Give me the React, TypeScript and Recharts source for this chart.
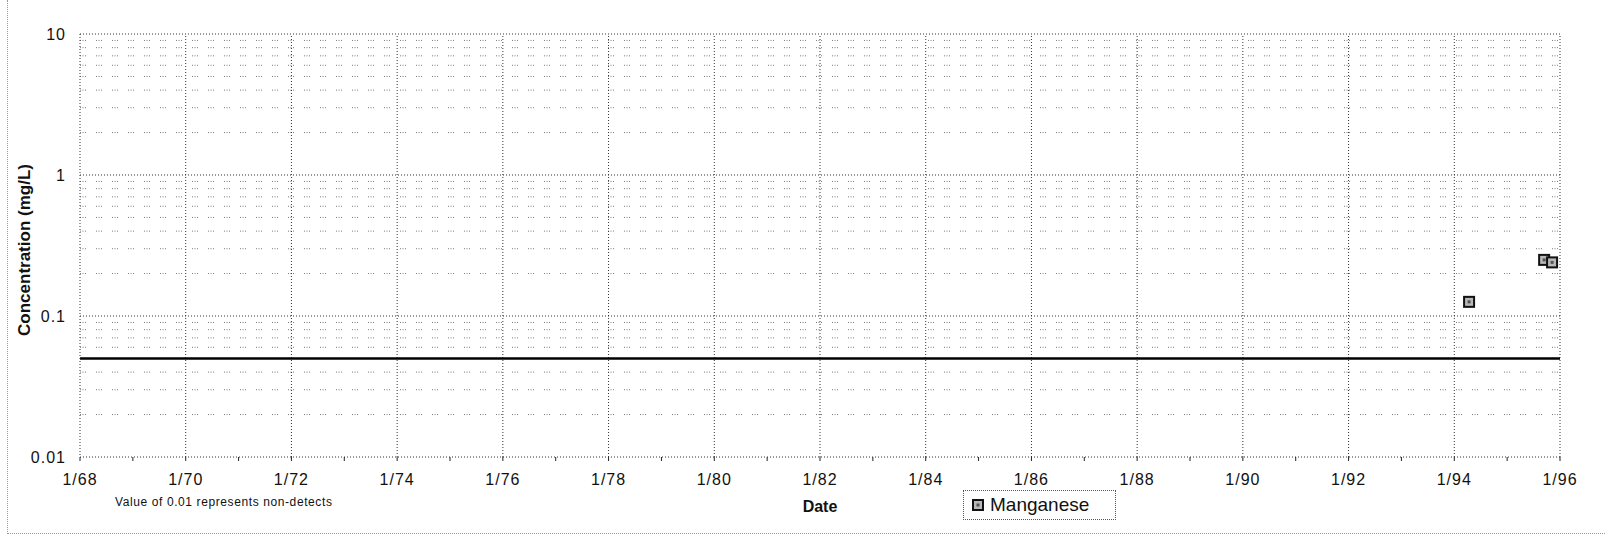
import { ScatterChart, Scatter, XAxis, YAxis, ReferenceLine, Label } from "recharts";

// sample dates as decimal years, concentration in mg/L
const sampleDates = [1994.28, 1995.7, 1995.85];
const manganese = [0.126, 0.25, 0.24];

const xTicks = [
  1968, 1969, 1970, 1971, 1972, 1973, 1974, 1975, 1976, 1977, 1978, 1979, 1980, 1981, 1982,
  1983, 1984, 1985, 1986, 1987, 1988, 1989, 1990, 1991, 1992, 1993, 1994, 1995, 1996,
];
const xLabelYears = [
  1968, 1970, 1972, 1974, 1976, 1978, 1980, 1982, 1984, 1986, 1988, 1990, 1992, 1994, 1996,
];
const xGridYears = [1970, 1972, 1974, 1976, 1978, 1980, 1982, 1984, 1986, 1988, 1990, 1992, 1994, 1996];
const yTicks = [0.01, 0.1, 1, 10];
const yMajorGrid = [0.1, 1, 10];
const yMinorGrid = [
  0.02, 0.03, 0.04, 0.05, 0.06, 0.07, 0.08, 0.09,
  0.2, 0.3, 0.4, 0.5, 0.6, 0.7, 0.8, 0.9,
  2, 3, 4, 5, 6, 7, 8, 9,
];
const standardLevel = 0.05;

const data = sampleDates.map((d, i) => ({ date: d, value: manganese[i] }));

const FONT = "'Liberation Sans', Arial, Helvetica, sans-serif";
const MAJOR = { stroke: "#333", strokeDasharray: "1 2" };
const MINOR = { stroke: "#7a7a7a", strokeDasharray: "1 1.5 1 1.5 1 10" };

function Square(props: any) {
  const { cx, cy } = props;
  if (cx == null || cy == null) return <g />;
  return (
    <g>
      <rect x={cx - 5} y={cy - 5} width={10} height={10} fill="#b8b8b8" stroke="#111" strokeWidth={2} />
      <rect x={cx - 1.5} y={cy - 1.5} width={3} height={3} fill="#555" />
    </g>
  );
}

function XTick(props: any) {
  const { x, y, payload } = props;
  if (!xLabelYears.includes(payload.value)) return <g />;
  return (
    <text x={x} y={y} dy="0.71em" textAnchor="middle" fontFamily={FONT} fontSize={16} letterSpacing={1} fill="#111">
      {"1/" + String(payload.value).slice(2)}
    </text>
  );
}

function YTick(props: any) {
  const { x, y, payload } = props;
  return (
    <text x={x} y={y} dy="0.355em" textAnchor="end" fontFamily={FONT} fontSize={16} letterSpacing={1} fill="#111">
      {String(payload.value)}
    </text>
  );
}

export default function App() {
  return (
    <div style={{ position: "absolute", left: 0, top: 0, width: 1606, height: 539, background: "#fff" }}>
      <div
        style={{
          position: "absolute",
          left: 7,
          top: 0,
          width: 1599,
          height: 533,
          borderLeft: "1px dotted #999",
          borderBottom: "1px dotted #999",
        }}
      />
      <ScatterChart width={1606} height={539} margin={{ top: 34, right: 46, bottom: 22, left: 0 }}>
        <XAxis
          type="number"
          dataKey="date"
          domain={[1968, 1996]}
          ticks={xTicks}
          interval={0}
          allowDataOverflow
          height={60}
          tick={<XTick />}
          tickSize={4}
          tickMargin={13}
          axisLine={MAJOR}
          tickLine={{ stroke: "#222" }}
        >
          <Label
            value="Date"
            position="insideBottom"
            offset={5}
            style={{ fontFamily: FONT, fontSize: 16, fontWeight: 700, fill: "#111" }}
          />
        </XAxis>
        <YAxis
          type="number"
          dataKey="value"
          scale="log"
          domain={[0.01, 10]}
          ticks={yTicks}
          interval={0}
          allowDataOverflow
          width={80}
          tick={<YTick />}
          tickSize={0}
          tickMargin={14}
          tickLine={false}
          axisLine={MAJOR}
        />
        {yMinorGrid.map((v) => (
          <ReferenceLine key={"m" + v} y={v} {...MINOR} />
        ))}
        {yMajorGrid.map((v) => (
          <ReferenceLine key={"M" + v} y={v} {...MAJOR} />
        ))}
        {xGridYears.map((v) => (
          <ReferenceLine key={"x" + v} x={v} {...MAJOR} />
        ))}
        <ReferenceLine y={standardLevel} stroke="#000" strokeWidth={2.5} />
        <Scatter name="Manganese" data={data} shape={<Square />} isAnimationActive={false} />
      </ScatterChart>
      <div
        style={{
          position: "absolute",
          left: 963,
          top: 490,
          boxSizing: "border-box",
          width: 153,
          height: 30,
          border: "1px dotted #555",
          display: "flex",
          alignItems: "center",
          paddingLeft: 8,
          fontFamily: FONT,
          fontSize: 19,
          color: "#111",
        }}
      >
        <svg width={12} height={12} style={{ marginRight: 6 }}>
          <Square cx={6} cy={6} />
        </svg>
        Manganese
      </div>
      <div
        style={{
          position: "absolute",
          left: 115,
          top: 495,
          fontFamily: FONT,
          fontSize: 12,
          letterSpacing: 0.6,
          color: "#111",
          whiteSpace: "nowrap",
        }}
      >
        Value of 0.01 represents non-detects
      </div>
      <div
        style={{
          position: "absolute",
          left: 25,
          top: 250,
          transform: "translate(-50%, -50%) rotate(-90deg)",
          fontFamily: FONT,
          fontSize: 17,
          fontWeight: 700,
          color: "#111",
          whiteSpace: "nowrap",
        }}
      >
        Concentration (mg/L)
      </div>
    </div>
  );
}
